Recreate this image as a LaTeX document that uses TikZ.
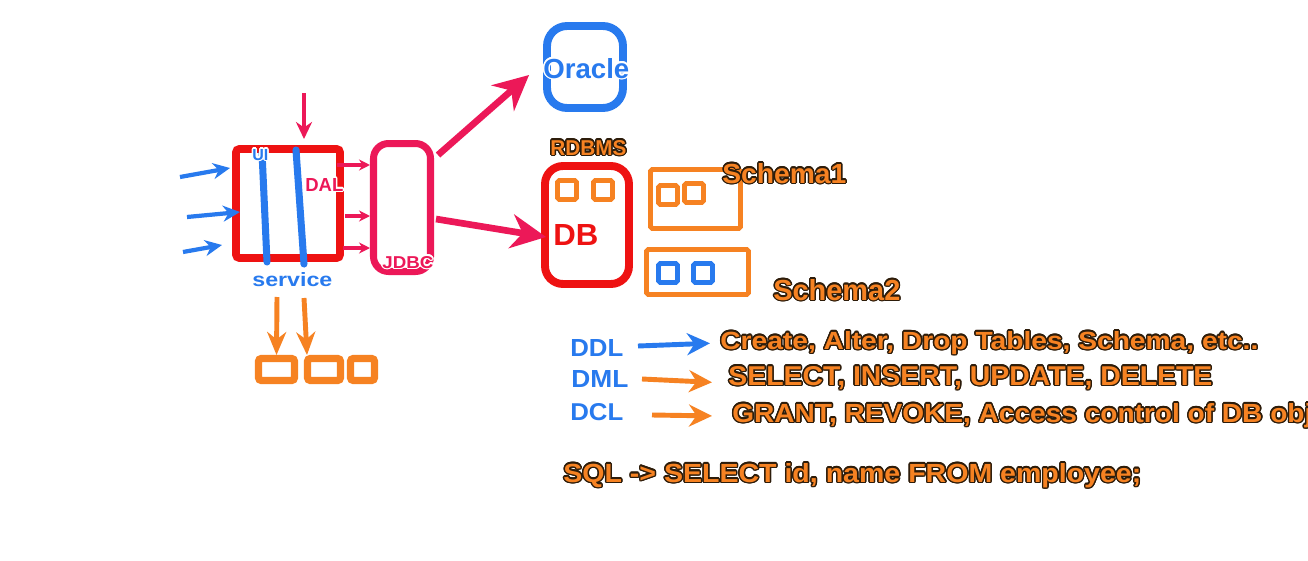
\documentclass[tikz,border=0pt]{standalone}
\usepackage{fontspec}
\setmainfont{Liberation Sans}
\usepackage{graphicx}
\usepackage{contour}
\usetikzlibrary{arrows.meta}
\contourlength{0.8pt}
\definecolor{appred}{RGB}{238,18,18}
\definecolor{jdbcpink}{RGB}{236,24,88}
\definecolor{sqlblue}{RGB}{40,122,238}
\definecolor{sqlorange}{RGB}{246,130,34}
\definecolor{outl}{RGB}{45,28,10}
\newlength{\pxu}
\setlength{\pxu}{0.02cm}
\newcommand{\fitlbl}[4]{\contour{#3}{\resizebox{#1\pxu}{#2\pxu}{\bfseries #4}}}

\begin{document}
\begin{tikzpicture}
          [x=0.02cm,y=-0.02cm,
          lbl/.style={inner sep=0pt,anchor=base west},
          box/.style={draw=#1,line width=4.5pt,inner sep=0pt},
          sq/.style={draw=#1,line width=2.8pt,inner sep=0pt,minimum width=0.38cm,minimum height=0.38cm,rounded corners=1pt},
          layer/.style={draw=sqlblue,line width=4pt,line cap=round},
          inarr/.style={draw=sqlblue,line width=2.4pt,-{Stealth[length=0.34cm,width=0.32cm]}},
          downarr/.style={draw=sqlorange,line width=2.8pt,-{Stealth[length=0.46cm,width=0.38cm]}},
          smallarr/.style={draw=jdbcpink,line width=1.8pt,-{Stealth[length=0.22cm,width=0.22cm]}},
          bigarr/.style={draw=jdbcpink,line width=3.8pt,-{Stealth[length=0.7cm,width=0.68cm]}},
          cmdarr/.style={draw=#1,line width=2.8pt,-{Stealth[length=0.46cm,width=0.44cm]}}]

            \useasboundingbox[fill=white] (0,0) rectangle (1308,561);

            \node (app) [box=appred,minimum width=2.08cm,minimum height=2.18cm,rounded corners=2pt] at (288,203.5) {};
            \node (jdbc) [box=jdbcpink,line width=4pt,minimum width=1.14cm,minimum height=2.56cm,rounded corners=0.3cm] at (402,207.5) {};
            \node (oracle) [box=sqlblue,minimum width=1.52cm,minimum height=1.64cm,rounded corners=0.4cm] at (585,67) {};
            \node (db) [box=appred,minimum width=1.68cm,minimum height=2.36cm,rounded corners=0.36cm] at (587,225) {};
            \node (schema1) [box=sqlorange,line width=2.8pt,minimum width=1.8cm,minimum height=1.18cm,rounded corners=1pt] at (695.5,199) {};
            \node (schema2) [box=sqlorange,line width=2.8pt,minimum width=2.04cm,minimum height=0.9cm,rounded corners=1pt] at (697.5,272) {};

            \node (db1) [sq=sqlorange] at (567,190) {};
            \node (db2) [sq=sqlorange] at (603,190) {};
            \node (s11) [sq=sqlorange] at (668,195) {};
            \node (s12) [sq=sqlorange] at (694,193) {};
            \node (s21) [sq=sqlblue] at (668,273) {};
            \node (s22) [sq=sqlblue] at (703,273) {};

            \node (out1) [box=sqlorange,line width=4pt,minimum width=0.72cm,minimum height=0.44cm,rounded corners=1.5pt] at (276.5,369.5) {};
            \node (out2) [box=sqlorange,line width=4pt,minimum width=0.66cm,minimum height=0.44cm,rounded corners=1.5pt] at (324,369.5) {};
            \node (out3) [box=sqlorange,line width=4pt,minimum width=0.48cm,minimum height=0.44cm,rounded corners=1.5pt] at (362.5,369.5) {};

          \coordinate (U1) at (262,152);
          \coordinate (U2) at (267,262);
          \coordinate (D1) at (296,150);
          \coordinate (D2) at (304,264);
          \draw [layer] (U1) -- (U2);
          \draw [layer] (D1) -- (D2);

            \node (ui) [lbl,text=sqlblue] at (252,160) {\fitlbl{16}{11}{white}{UI}};
            \node (dal) [lbl,text=jdbcpink] at (305,191) {\fitlbl{38}{13}{white}{DAL}};
            \node (service) [lbl,text=sqlblue] at (252,286) {\fitlbl{80}{14}{white}{service}};
            \node (jdbclbl) [lbl,text=jdbcpink] at (382,268) {\fitlbl{51}{12}{white}{JDBC}};
            \node (oraclelbl) [lbl,text=sqlblue] at (543,78) {\fitlbl{86}{20}{white}{Oracle}};
            \node (rdbms) [lbl,text=sqlorange] at (550,155) {\fitlbl{76}{15}{outl}{RDBMS}};
            \node (dblbl) [lbl,text=appred] at (553,245) {\fitlbl{45}{21}{white}{DB}};
            \node (schema1lbl) [lbl,text=sqlorange] at (722,183) {\fitlbl{124}{20}{outl}{Schema1}};
            \node (schema2lbl) [lbl,text=sqlorange] at (773,300) {\fitlbl{127}{21}{outl}{Schema2}};

            \node (ddl) [lbl,text=sqlblue] at (570,356) {\fitlbl{53}{17}{white}{DDL}};
            \node (dml) [lbl,text=sqlblue] at (571,387) {\fitlbl{57}{17}{white}{DML}};
            \node (dcl) [lbl,text=sqlblue] at (570,420) {\fitlbl{53}{17}{white}{DCL}};
            \node (create) [lbl,text=sqlorange] at (720,349) {\fitlbl{538}{18}{outl}{Create, Alter, Drop Tables, Schema, etc..}};
            \node (select) [lbl,text=sqlorange] at (728,385) {\fitlbl{484}{19}{outl}{SELECT, INSERT, UPDATE, DELETE}};
            \node (grant) [lbl,text=sqlorange] at (732,422) {\fitlbl{580}{19}{outl}{GRANT, REVOKE, Access control of DB obj}};
            \node (sql) [lbl,text=sqlorange] at (563,482) {\fitlbl{578}{19}{outl}{SQL -> SELECT id, name FROM employee;}};

          \coordinate (A1) at (180,177);
          \coordinate (A2) at (187,217);
          \coordinate (A3) at (183,252);
          \coordinate (B1) at (230,168);
          \coordinate (B2) at (240,212);
          \coordinate (B3) at (222,245);
          \coordinate (T1) at (304,93);
          \coordinate (T2) at (304,139);
          \coordinate (C1) at (337,165);
          \coordinate (C2) at (345,216);
          \coordinate (C3) at (343,248);
          \coordinate (E1) at (277,297);
          \coordinate (E2) at (304,298);
          \coordinate (J1) at (438,155);
          \coordinate (J2) at (436,219);
          \coordinate (K1) at (638,346);
          \coordinate (K2) at (642,379);
          \coordinate (K3) at (652,415);

          \draw [inarr] (A1) to (B1);
          \draw [inarr] (A2) to (B2);
          \draw [inarr] (A3) to (B3);
          \draw [inarr,draw=jdbcpink] (T1) to (T2);
            \draw [smallarr] (C1) to (jdbc.west |- C1);
            \draw [smallarr] (C2) to (jdbc.west |- C2);
            \draw [smallarr] (C3) to (jdbc.west |- C3);
            \draw [downarr] (E1) to (out1.north);
            \draw [downarr] (E2) to ([xshift=-0.34cm]out2.north);
            \draw [bigarr] (J1) to ([xshift=-0.28cm,yshift=-0.16cm]oracle.west);
            \draw [bigarr] (J2) to ([xshift=0.1cm,yshift=-0.24cm]db.west);
            \draw [cmdarr=sqlblue] (K1) to ([xshift=-0.2cm]create.west);
            \draw [cmdarr=sqlorange] (K2) to ([xshift=-0.32cm,yshift=-0.08cm]select.west);
            \draw [cmdarr=sqlorange] (K3) to ([xshift=-0.4cm]grant.west);

        \end{tikzpicture}
\end{document}
